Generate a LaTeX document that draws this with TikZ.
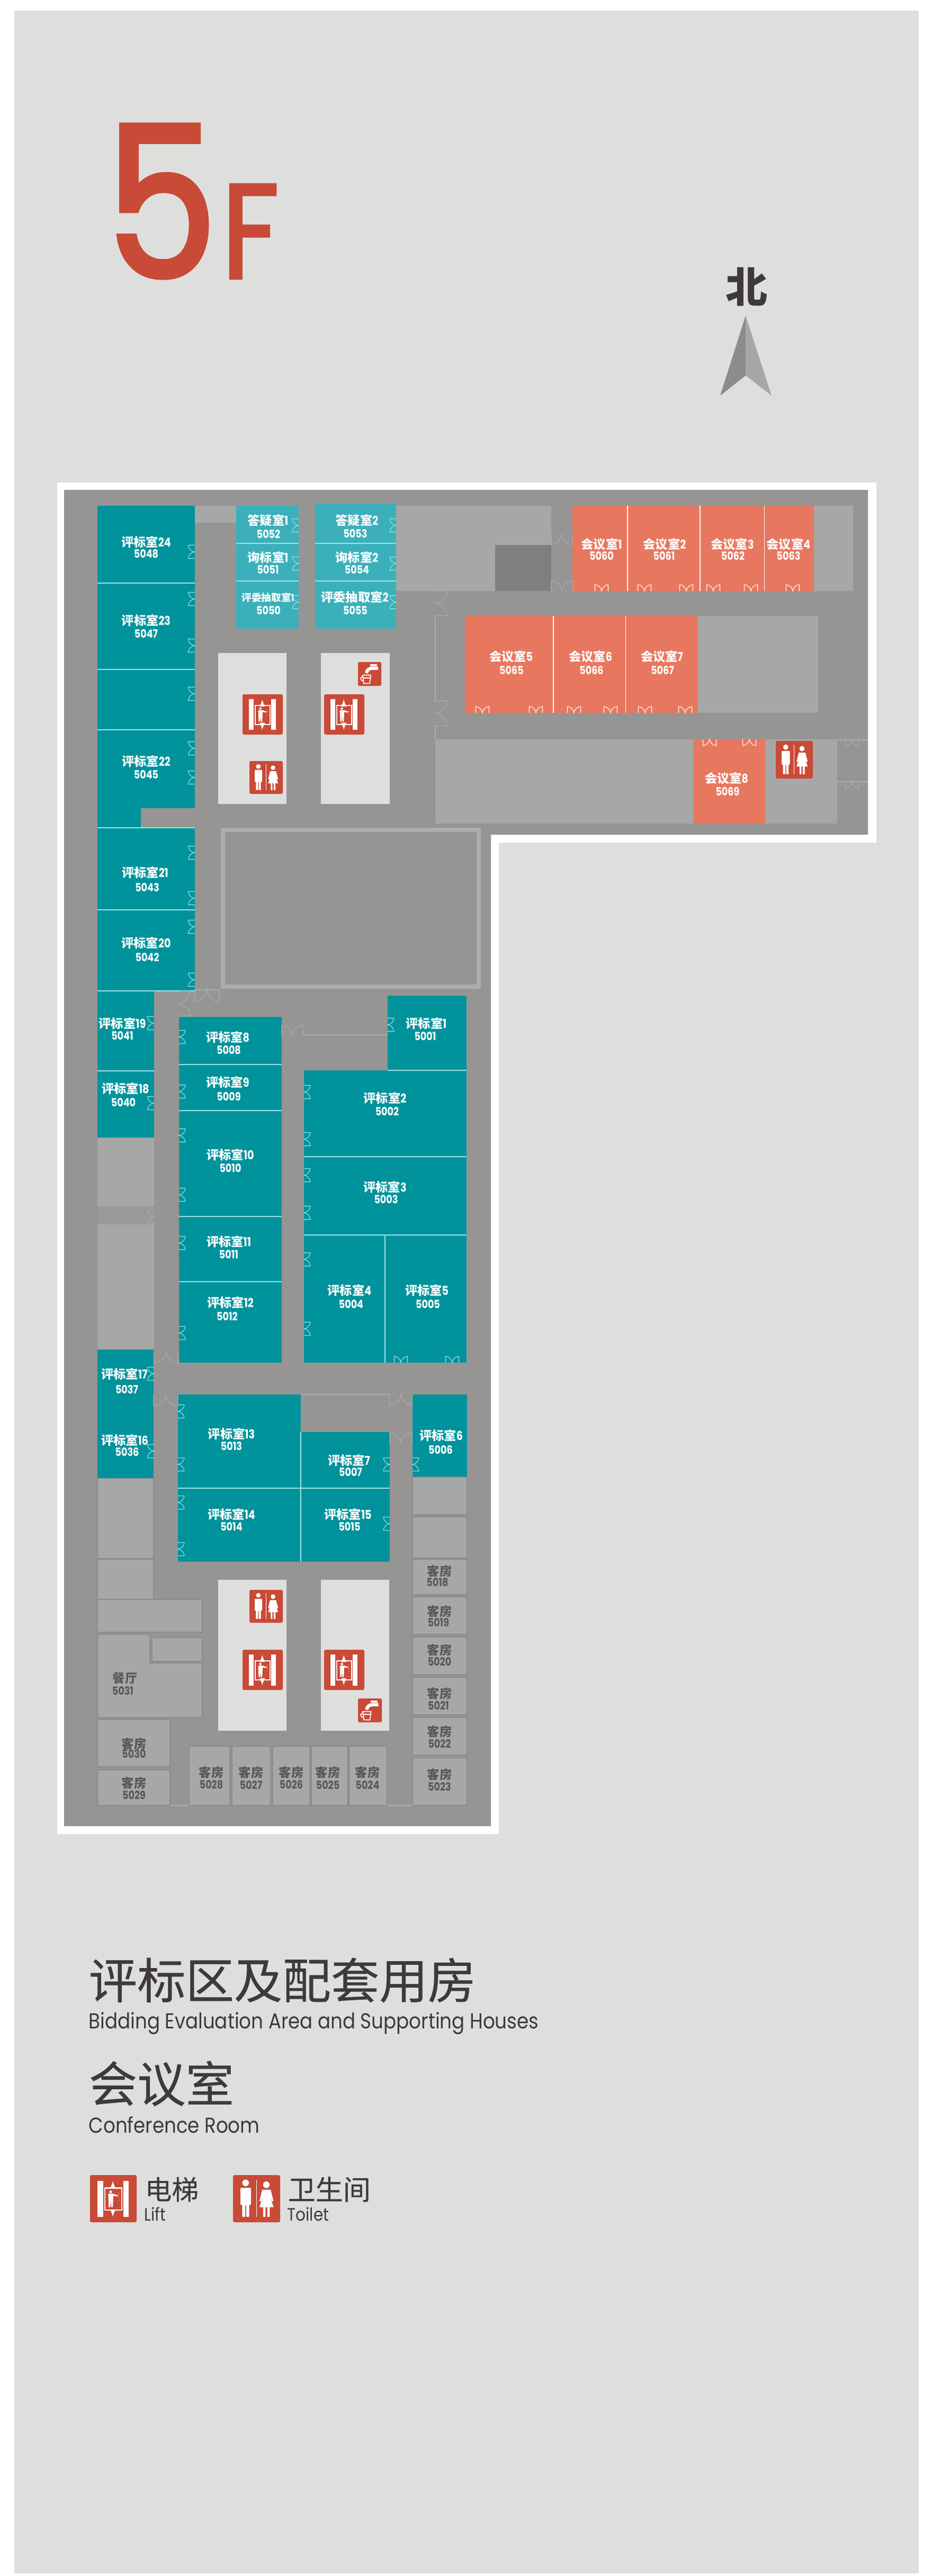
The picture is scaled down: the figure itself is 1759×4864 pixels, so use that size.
\documentclass[tikz,border=0pt]{standalone}
\usepackage{fontspec}
\usepackage{xcolor}
\usepackage{tikz}
\newfontfamily\cjk[FakeBold=0.4]{Noto Sans CJK SC}
\newfontfamily\cjkplain{Noto Sans CJK SC}
\newcommand{\cjkb}{\cjkplain\bfseries}
\newfontfamily\latin[FakeStretch=0.875]{Poppins}
\newfontfamily\latinmid[FakeStretch=0.82]{Poppins}
\newcommand{\latinb}{\latinmid\bfseries}
\newfontfamily\latinh[FakeStretch=0.84,FakeBold=2.2]{Poppins}

\definecolor{panel}{HTML}{DEDFDD}
\definecolor{floorgrey}{HTML}{969594}
\definecolor{roomgrey}{HTML}{A6A7A7}
\definecolor{shaftgrey}{HTML}{807F7D}
\definecolor{teal}{HTML}{00939C}
\definecolor{lightteal}{HTML}{3BB0BA}
\definecolor{orange}{HTML}{E8775F}
\definecolor{signred}{HTML}{C94A37}
\definecolor{inktext}{HTML}{3E3A39}
\definecolor{tealline}{HTML}{9FE3E6}
\definecolor{greyline}{HTML}{ADADAD}

\tikzset{
  box/.style={inner sep=0pt, outer sep=0pt},
  evalroom/.style={box, fill=teal},
  qaroom/.style={box, fill=lightteal},
  confroom/.style={box, fill=orange},
  greyroom/.style={box, fill=roomgrey},
  guestroom/.style={box, fill=roomgrey, draw=floorgrey!93!black, line width=0.4pt},
  core/.style={box, fill=panel},
  divider/.style={line width=0.5pt},
  roomname/.style={inner sep=0pt, font=\fontsize{6.6}{7}\selectfont\cjkb},
  roomno/.style={inner sep=0pt, font=\fontsize{6.1}{7}\selectfont\latinb},
  door/.pic={
    \draw[line width=0.3pt] (0,-12.5) -- (12,-12.5) .. controls (12,-6) and (5,0) .. (0,0)
      .. controls (5,0) and (12,6) .. (12,12.5) -- (0,12.5);
  },
  lifticon/.pic={
    \fill[signred, rounded corners=0.8pt] (0,0) rectangle (1,1);
    \fill[white] (0.154,0.118) rectangle (0.282,0.888);
    \fill[white] (0.711,0.118) rectangle (0.832,0.888);
    \draw[white, line width=0.6pt] (0.32,0.275) rectangle (0.685,0.745);
    \draw[white, line width=0.35pt, -latex] (0.49,0.235) -- (0.49,0.125);
    \draw[white, line width=0.35pt, -latex] (0.49,0.775) -- (0.49,0.885);
    \fill[white] (0.443,0.355) circle[radius=0.03];
    \fill[white] (0.39,0.395) -- (0.50,0.395) -- (0.60,0.43) -- (0.59,0.455) -- (0.50,0.44)
      -- (0.49,0.68) -- (0.455,0.68) -- (0.445,0.54) -- (0.435,0.68) -- (0.40,0.68) -- cycle;
    \foreach \ypos in {0.38,0.43,0.48,0.53}
      \fill[white] (0.617,\ypos) circle[radius=0.008];
  },
  toileticon/.pic={
    \fill[signred, rounded corners=0.8pt] (0,0) rectangle (1,1);
    \fill[white] (0.268,0.165) circle[radius=0.07];
    \fill[white, rounded corners=0.3pt] (0.16,0.27) -- (0.38,0.27) -- (0.38,0.63) -- (0.345,0.63)
      -- (0.345,0.886) -- (0.28,0.886) -- (0.28,0.63) -- (0.26,0.63) -- (0.26,0.886)
      -- (0.195,0.886) -- (0.195,0.63) -- (0.16,0.63) -- cycle;
    \fill[white] (0.49,0.10) rectangle (0.505,0.89);
    \fill[white] (0.707,0.205) circle[radius=0.07];
    \fill[white] (0.62,0.31) -- (0.80,0.31) -- (0.86,0.55) -- (0.83,0.56) -- (0.775,0.42)
      -- (0.86,0.68) -- (0.78,0.68) -- (0.78,0.886) -- (0.73,0.886) -- (0.73,0.68)
      -- (0.69,0.68) -- (0.69,0.886) -- (0.64,0.886) -- (0.64,0.68) -- (0.56,0.68)
      -- (0.645,0.42) -- (0.59,0.56) -- (0.56,0.55) -- cycle;
  },
  watericon/.pic={
    \fill[signred, rounded corners=0.8pt] (0,0) rectangle (1,1);
    \draw[white, line width=1.2pt] (0.53,0.13) -- (0.82,0.13);
    \draw[white, line width=1.8pt] (0.86,0.26) -- (0.62,0.26) .. controls (0.48,0.26) and (0.38,0.34) .. (0.36,0.47);
    \draw[white, line width=0.5pt] (0.2,0.55) -- (0.55,0.55) -- (0.5,0.9) -- (0.25,0.9) -- cycle;
    \draw[white, line width=0.5pt] (0.2,0.62) .. controls (0.08,0.62) and (0.08,0.78) .. (0.24,0.8);
    \draw[white, line width=0.5pt] (0.21,0.66) -- (0.54,0.66);
  }
}

% room box given by its corners, in reference pixels
\newcommand{\room}[6]{\node[#1, minimum width={(#5-#3)*0.01cm}, minimum height={(#6-#4)*0.01cm}] (#2) at ({(#3+#5)/2},{(#4+#6)/2}) {};}
% name and number of a room
\newcommand{\roomlabel}[7]{%
  \node[roomname] (#1name) at (#2,#3) {#4};
  \node[roomno] (#1no) at (#5,#6) {#7};}
\newcommand{\rn}[2]{#1{\latinb #2}}
\newcommand{\door}[4][1]{\pic[rotate=#4, scale=#1] at (#2,#3) {door};}

\begin{document}
\begin{tikzpicture}[x=0.01cm, y=-0.01cm]
  \useasboundingbox (0,0) rectangle (1759,4864);
  \fill[panel] (27,20) rectangle (1735,4859);

  % frame and floor
  \fill[white] (108,911) -- (1655,911) -- (1655,1591) -- (942,1591) -- (942,3463) -- (108,3463) -- cycle;
  \fill[floorgrey] (121,925) -- (1639,925) -- (1639,1576) -- (927,1576) -- (927,3448) -- (121,3448) -- cycle;

  % title and north arrow
  \node[inner sep=0pt, text=signred, font=\fontsize{113}{120}\selectfont\latinh] (floorno) at (305,380) {5};
  \node[inner sep=0pt, text=signred, font=\fontsize{72}{74}\selectfont\latinh] (floorf) at (473,437) {F};
  \node[inner sep=0pt, text=inktext, font=\fontsize{22.5}{24}\selectfont\cjkb] (north) at (1410,542) {北};
  \coordinate (tip) at (1408,596);
  \coordinate (notch) at (1408,709);
  \fill[shaftgrey!90!white] (tip) -- (1360,747) -- (notch) -- cycle;
  \fill[roomgrey] (tip) -- (1457,747) -- (notch) -- cycle;

  % grey rooms
  \room{greyroom}{g1}{368}{955}{446}{987}
  \room{greyroom}{g2}{748}{955}{1041}{1116}
  \room{box, fill=shaftgrey}{shaft}{935}{1029}{1041}{1116}
  \room{greyroom}{g3}{1537}{955}{1611}{1116}
  \room{greyroom}{g4}{1318}{1163}{1545}{1346}
  \room{greyroom}{g5}{822}{1396}{1310}{1555}
  \room{greyroom}{g6}{1445}{1396}{1581}{1555}
  \room{greyroom}{g7}{184}{2148}{291}{2278}
  \room{box, fill=floorgrey!80!roomgrey}{g8}{186}{2278}{291}{2312}
  \room{greyroom}{g9}{184}{2312}{291}{2548}
  \room{guestroom}{g10}{184}{2791}{290}{2943}
  \room{guestroom}{g11}{184}{2944}{290}{3020}
  \room{guestroom}{g12}{184}{3020}{382}{3082}
  \room{guestroom}{g13}{287}{3092}{382}{3137}
  \room{guestroom}{g14}{779}{2789}{882}{2860}
  \room{guestroom}{g15}{779}{2864}{882}{2942}
  \draw[fill=roomgrey, draw=floorgrey!93!black, line width=0.4pt] (184,3086) -- (283,3086) -- (283,3140) -- (382,3140) -- (382,3243) -- (184,3243) -- cycle;

  % courtyard
  \node[box, draw=greyline, line width=2.3pt, minimum width={(904-421)*0.01cm}, minimum height={(1863-1567)*0.01cm}] (yard) at (662.5,1715) {};

  % cores
  \room{core}{c1}{412}{1233}{541}{1518}
  \room{core}{c2}{606}{1233}{736}{1518}
  \room{core}{c3}{412}{2983}{541}{3268}
  \room{core}{c4}{606}{2983}{735}{3268}

  % evaluation rooms
  \room{evalroom}{r24}{184}{955}{367.5}{1101}
  \room{evalroom}{r23}{184}{1101}{367.5}{1264}
  \room{evalroom}{rx}{184}{1264}{367.5}{1378}
  \room{evalroom}{r22}{184}{1378}{367.5}{1526}
  \room{evalroom}{r22b}{184}{1526}{266}{1563}
  \room{evalroom}{r21}{184}{1563}{367.5}{1718}
  \room{evalroom}{r20}{184}{1718}{367.5}{1871}
  \room{evalroom}{r19}{184}{1871}{291}{2022}
  \room{evalroom}{r18}{184}{2022}{291}{2148}
  \room{evalroom}{r17}{184}{2548}{290}{2791}
  \room{evalroom}{r8}{338}{1920}{532}{2010}
  \room{evalroom}{r9}{338}{2010}{532}{2097}
  \room{evalroom}{r10}{338}{2097}{532}{2297}
  \room{evalroom}{r11}{338}{2297}{532}{2420}
  \room{evalroom}{r12}{338}{2420}{532}{2573}
  \room{evalroom}{r1}{732}{1880}{881}{2021}
  \room{evalroom}{r2}{574}{2021}{881}{2184}
  \room{evalroom}{r3}{574}{2184}{881}{2332}
  \room{evalroom}{r4}{574}{2332}{727}{2573}
  \room{evalroom}{r5}{727}{2332}{881}{2573}
  \room{evalroom}{r13}{336}{2633}{568}{2810}
  \room{evalroom}{r7}{568}{2704}{736}{2810}
  \room{evalroom}{r14}{336}{2810}{568}{2949}
  \room{evalroom}{r15}{568}{2810}{736}{2949}
  \room{evalroom}{r6}{779}{2633}{882}{2788}

  % question rooms
  \room{qaroom}{q1}{446}{955}{564}{1026}
  \room{qaroom}{q2}{446}{1026}{564}{1097}
  \room{qaroom}{q3}{446}{1097}{564}{1187}
  \room{qaroom}{q4}{595}{951}{748}{1026}
  \room{qaroom}{q5}{595}{1026}{748}{1097}
  \room{qaroom}{q6}{595}{1097}{748}{1187}

  % conference rooms
  \room{confroom}{m1}{1081}{955}{1185}{1116}
  \room{confroom}{m2}{1185}{955}{1322}{1116}
  \room{confroom}{m3}{1322}{955}{1443.5}{1116}
  \room{confroom}{m4}{1443.5}{955}{1537}{1116}
  \room{confroom}{m5}{878}{1163}{1045}{1346}
  \room{confroom}{m6}{1045}{1163}{1181.5}{1346}
  \room{confroom}{m7}{1181.5}{1163}{1318}{1346}
  \room{confroom}{m8}{1310}{1396}{1445}{1555}

  % guest rooms
  \room{guestroom}{k18}{779}{2944}{882}{3011}
  \room{guestroom}{k19}{779}{3015}{882}{3086}
  \room{guestroom}{k20}{779}{3091}{882}{3162}
  \room{guestroom}{k21}{779}{3167}{882}{3238}
  \room{guestroom}{k22}{779}{3243}{882}{3314}
  \room{guestroom}{k23}{779}{3319}{882}{3409}
  \room{guestroom}{k24}{659}{3297}{731}{3409}
  \room{guestroom}{k25}{588}{3297}{657}{3409}
  \room{guestroom}{k26}{515}{3297}{585}{3409}
  \room{guestroom}{k27}{438}{3297}{511}{3409}
  \room{guestroom}{k28}{357}{3297}{434}{3409}
  \room{guestroom}{k29}{184}{3342}{321}{3409}
  \room{guestroom}{k30}{184}{3247}{321}{3336}

  % dividers
  \begin{scope}[color=tealline]
    \foreach \upr in {r24, r23, rx, r21, r20, r19, r8, r9, r10, r11, r1, r2, r3, r13, r7, q1, q2, q4, q5}
      {\draw[divider] (\upr.south west) -- (\upr.south east);}
    \draw[divider] (r22b.south west) -- (r21.north east);
    \draw[divider] (r4.north east) -- (r4.south east);
    \draw[divider] (r13.south east) -- (r14.south east);
    \draw[divider] (r7.north west) -- (r7.south west);
  \end{scope}
  \begin{scope}[color=white]
    \foreach \lft in {m1, m2, m3, m5, m6}
      {\draw[divider] (\lft.north east) -- (\lft.south east);}
  \end{scope}

  % thin walls
  \begin{scope}[color=greyline, line width=0.35pt]
    \draw (822,1163) -- (822,1324);
    \draw (822,1370) -- (822,1396);
    \draw (1581,1397) -- (1639,1397);
    \draw (1581,1476) -- (1639,1476);
    \draw (572,1954) -- (732,1954);
    \draw (568,2633) -- (737,2633);
    \draw (367,1869) -- (413,1869);
    \draw (357,3409) -- (321,3409);
    \draw (731,3409) -- (779,3409);
  \end{scope}

  % doors
  \begin{scope}[color=tealline]
    \foreach \ypos in {1042,1131,1219,1310,1413,1468,1610,1696,1750,1850}
      {\door{367.5}{\ypos}{180}}
    \foreach \ypos in {992,1064,1137}
      {\door{564}{\ypos}{180}}
    \foreach \ypos in {992,1064,1137}
      {\door{748}{\ypos}{180}}
    \foreach \ypos in {1932,2083,2594,2740}
      {\door{290.5}{\ypos}{180}}
    \foreach \ypos in {1958,2061,2144,2256,2347,2517}
      {\door{338}{\ypos}{0}}
    \foreach \ypos in {2062,2151,2219,2290,2378,2509}
      {\door{574}{\ypos}{0}}
    \door{732}{1935}{0}
    \door{757}{2573}{90}
    \door{854}{2573}{90}
    \foreach \ypos in {2665,2765,2837,2925}
      {\door{336}{\ypos}{0}}
    \door{736}{2765}{180}
    \door{736}{2877}{180}
    \door{779}{2765}{0}
  \end{scope}
  \begin{scope}[color=white]
    \foreach \xpos in {1136,1217,1296,1347,1418,1497}
      {\door{\xpos}{1116}{90}}
    \foreach \xpos in {911,1012,1084,1153,1218,1294}
      {\door{\xpos}{1346}{90}}
    \door{1340}{1396}{-90}
    \door{1415}{1396}{-90}
  \end{scope}
  \begin{scope}[color=greyline]
    \door[1.6]{1061}{1009}{-90}
    \door[1.6]{1061}{1116}{90}
    \door[1.88]{822}{1139}{0}
    \door[1.88]{822}{1347}{0}
    \door{1609}{1397}{-90}
    \door{1609}{1476}{-90}
    \door{291}{2297}{180}
    \door[1.88]{337}{1895}{0}
    \door[1.84]{391}{1869}{-90}
    \door[1.6]{552}{1955}{90}
    \door[1.84]{314}{2552}{-90}
    \door[1.84]{313}{2633}{-90}
    \door[1.68]{757}{2633}{-90}
    \door[1.68]{757}{2725}{90}
  \end{scope}

  % signs
  \pic[xscale=76, yscale=76] at (458,1311) {lifticon};
  \pic[xscale=76, yscale=76] at (612,1311) {lifticon};
  \pic[xscale=63, yscale=62] at (471,1437) {toileticon};
  \pic[xscale=44, yscale=45] at (676,1250) {watericon};
  \pic[xscale=70, yscale=71] at (1465,1399) {toileticon};
  \pic[xscale=63, yscale=62] at (471,3002) {toileticon};
  \pic[xscale=76, yscale=76] at (458,3115) {lifticon};
  \pic[xscale=76, yscale=76] at (612,3115) {lifticon};
  \pic[xscale=45, yscale=45] at (676,3207) {watericon};

  % room labels
  \begin{scope}[text=white]
    \roomlabel{r24}{276}{1023}{\rn{评标室}{24}}{276}{1046}{5048}
    \roomlabel{r23}{276}{1171}{\rn{评标室}{23}}{276}{1197}{5047}
    \roomlabel{r22}{276}{1437}{\rn{评标室}{22}}{276}{1462}{5045}
    \roomlabel{r21}{274}{1647}{\rn{评标室}{21}}{278}{1676}{5043}
    \roomlabel{r20}{276}{1780}{\rn{评标室}{20}}{278}{1807}{5042}
    \roomlabel{r19}{231}{1932}{\rn{评标室}{19}}{231}{1955}{5041}
    \roomlabel{r18}{237}{2055}{\rn{评标室}{18}}{233}{2081}{5040}
    \roomlabel{r17}{235}{2594}{\rn{评标室}{17}}{239.5}{2624}{5037}
    \roomlabel{r16}{235.5}{2719}{\rn{评标室}{16}}{240}{2742}{5036}
    \roomlabel{r8}{430}{1958}{\rn{评标室}{8}}{432}{1983}{5008}
    \roomlabel{r9}{430}{2043}{\rn{评标室}{9}}{432}{2070}{5009}
    \roomlabel{r10}{435}{2180}{\rn{评标室}{10}}{435}{2205}{5010}
    \roomlabel{r11}{432}{2344}{\rn{评标室}{11}}{432}{2368}{5011}
    \roomlabel{r12}{435}{2459}{\rn{评标室}{12}}{429}{2485}{5012}
    \roomlabel{r1}{805}{1932}{\rn{评标室}{1}}{803}{1956}{5001}
    \roomlabel{r2}{727}{2073}{\rn{评标室}{2}}{731}{2098}{5002}
    \roomlabel{r3}{727}{2241}{\rn{评标室}{3}}{729}{2265}{5003}
    \roomlabel{r4}{660}{2436}{\rn{评标室}{4}}{663}{2462}{5004}
    \roomlabel{r5}{806}{2436}{\rn{评标室}{5}}{808}{2462}{5005}
    \roomlabel{r13}{437}{2707}{\rn{评标室}{13}}{437}{2731}{5013}
    \roomlabel{r14}{437}{2859}{\rn{评标室}{14}}{437}{2882}{5014}
    \roomlabel{r7}{659}{2757}{\rn{评标室}{7}}{662}{2779}{5007}
    \roomlabel{r15}{657}{2859}{\rn{评标室}{15}}{660}{2882}{5015}
    \roomlabel{r6}{833}{2710}{\rn{评标室}{6}}{832}{2738}{5006}
    \roomlabel{q1}{506}{983}{\rn{答疑室}{1}}{507}{1008}{5052}
    \roomlabel{q2}{506}{1052}{\rn{询标室}{1}}{506}{1076}{5051}
    \roomlabel{q4}{674}{983}{\rn{答疑室}{2}}{671}{1008}{5053}
    \roomlabel{q5}{674}{1052}{\rn{询标室}{2}}{674}{1076}{5054}
    \roomlabel{q6}{670}{1128}{\rn{评委抽取室}{2}}{671}{1153}{5055}
    \node[roomname, font=\fontsize{5.3}{6}\selectfont\cjkb] (q3name) at (506,1128) {\rn{评委抽取室}{1}};
    \node[roomno] (q3no) at (507,1153) {5050};
    \roomlabel{m1}{1136}{1028}{\rn{会议室}{1}}{1136}{1050}{5060}
    \roomlabel{m2}{1255}{1028}{\rn{会议室}{2}}{1254}{1050}{5061}
    \roomlabel{m3}{1383}{1028}{\rn{会议室}{3}}{1384}{1050}{5062}
    \roomlabel{m4}{1489}{1028}{\rn{会议室}{4}}{1489}{1050}{5063}
    \roomlabel{m5}{965}{1240}{\rn{会议室}{5}}{966}{1266}{5065}
    \roomlabel{m6}{1115}{1240}{\rn{会议室}{6}}{1117}{1266}{5066}
    \roomlabel{m7}{1250}{1240}{\rn{会议室}{7}}{1251}{1266}{5067}
    \roomlabel{m8}{1372}{1470}{\rn{会议室}{8}}{1374}{1495}{5069}
  \end{scope}
  \begin{scope}[text=inktext!85!white]
    \roomlabel{k18}{830}{2967}{客房}{826}{2988}{5018}
    \roomlabel{k19}{830}{3043}{客房}{828}{3063}{5019}
    \roomlabel{k20}{830}{3116}{客房}{830}{3137}{5020}
    \roomlabel{k21}{830}{3198}{客房}{828}{3220}{5021}
    \roomlabel{k22}{830}{3270}{客房}{830}{3292}{5022}
    \roomlabel{k23}{830}{3351}{客房}{830}{3374}{5023}
    \roomlabel{k24}{694}{3347}{客房}{694}{3370}{5024}
    \roomlabel{k25}{619}{3347}{客房}{619}{3370}{5025}
    \roomlabel{k26}{550}{3347}{客房}{550}{3370}{5026}
    \roomlabel{k27}{474}{3347}{客房}{474}{3370}{5027}
    \roomlabel{k28}{399}{3347}{客房}{399}{3370}{5028}
    \roomlabel{k29}{253}{3367}{客房}{253}{3389}{5029}
    \roomlabel{k30}{253}{3293}{客房}{253}{3312}{5030}
    \roomlabel{k31}{236}{3169}{餐厅}{232}{3193}{5031}
  \end{scope}

  % legend
  \begin{scope}[text=inktext, inner sep=0pt]
    \node[anchor=west, font=\fontsize{26}{28}\selectfont\cjk] (area) at (167,3739) {评标区及配套用房};
    \node[anchor=base west, font=\fontsize{11.6}{13}\selectfont\latin] (areaen) at (167,3830) {Bidding Evaluation Area and Supporting Houses};
    \node[anchor=west, font=\fontsize{26}{28}\selectfont\cjk] (conf) at (167,3934) {会议室};
    \node[anchor=base west, font=\fontsize{11.6}{13}\selectfont\latin] (confen) at (167,4027) {Conference Room};
    \pic[xscale=88, yscale=89] at (170,4107) {lifticon};
    \pic[xscale=89, yscale=89] at (440,4107) {toileticon};
    \node[anchor=west, font=\fontsize{14.4}{16}\selectfont\cjk] (lift) at (273,4134) {电梯};
    \node[anchor=base west, font=\fontsize{9.6}{11}\selectfont\latin] (liften) at (272,4193) {Lift};
    \node[anchor=west, font=\fontsize{14.8}{16}\selectfont\cjk] (toilet) at (543,4134) {卫生间};
    \node[anchor=base west, font=\fontsize{9.6}{11}\selectfont\latin] (toileten) at (542,4193) {Toilet};
  \end{scope}
\end{tikzpicture}
\end{document}
